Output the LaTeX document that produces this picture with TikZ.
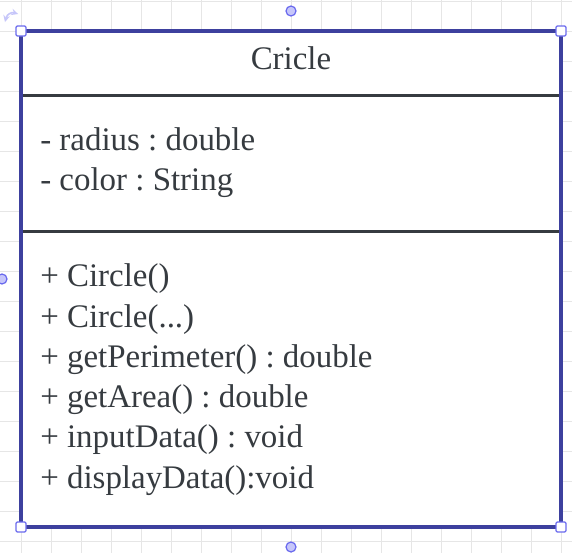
\documentclass[tikz,border=0pt]{standalone}
\usepackage{fontspec}
\setmainfont{Liberation Serif}
\usetikzlibrary{positioning}
\definecolor{txtgray}{HTML}{363B40}
\definecolor{selblue}{HTML}{3D409E}
\definecolor{hdlblue}{HTML}{6A6AEE}
\definecolor{hdlfill}{HTML}{C6C6FA}
\definecolor{gridgray}{HTML}{E6E6E6}
\frenchspacing
\begin{document}
\begin{tikzpicture}[x=0.75pt,y=-0.75pt,
  member/.style={anchor=base west, inner sep=0pt, text=txtgray, font=\fontsize{24.7}{30}\selectfont},
  handlesq/.style={draw=hdlblue, fill=white, line width=0.9pt, rounded corners=1pt},
  handledot/.style={draw=hdlblue, fill=hdlfill, line width=0.9pt}]
\useasboundingbox (0,0) rectangle (572,553);
\fill[white] (0,0) rectangle (572,553);
% grid
\foreach \gx in {21.7,51.7,...,571} \draw[gridgray, line width=0.75pt] (\gx,0) -- (\gx,553);
\foreach \gy in {1.7,31.7,...,553} \draw[gridgray, line width=0.75pt] (0,\gy) -- (572,\gy);

% class box
\coordinate (nw) at (21,31);
\coordinate (se) at (561,527);
\fill[white] (nw) rectangle (se);
\draw[txtgray, line width=2.25pt] (21,95) -- (561,95);
\draw[txtgray, line width=2.25pt] (21,231) -- (561,231);
\draw[selblue, line width=2.4pt] (nw) rectangle (se);

\node[member, anchor=base] (name) at (291,69) {Cricle};
\node[member] (radius) at (40,150) {- radius : double};
\node[member] (color) at (40,190.3) {- color : String};
\node[member] (ctor) at (40,286.7) {+ Circle()};
\node[member] (ctorargs) at (40,327) {+ Circle(...)};
\node[member] (perim) at (40,367.3) {+ getPerimeter() : double};
\node[member] (area) at (40,407.6) {+ getArea() : double};
\node[member] (input) at (40,447.9) {+ inputData() : void};
\node[member] (display) at (40,488.2) {+ displayData():void};

% selection handles
\foreach \hx/\hy in {21/31, 561/31, 21/527, 561/527}
  \draw[handlesq] (\hx-5,\hy-5) rectangle (\hx+5,\hy+5);
\foreach \hx/\hy in {291/11, 291/547, 2/279}
  \draw[handledot] (\hx,\hy) circle (5);
\draw[hdlfill, line width=1.2pt, <->, >=stealth] (5,22) .. controls (7,14) and (12,12) .. (18,14);
\end{tikzpicture}
\end{document}
